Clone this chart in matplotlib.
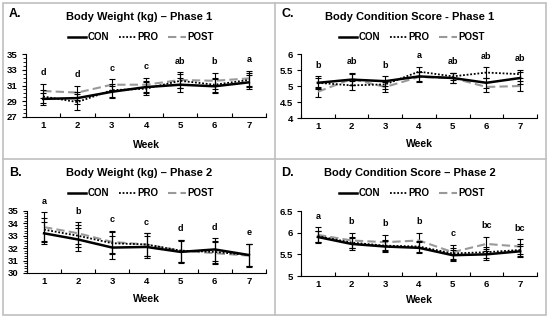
import matplotlib
matplotlib.use('Agg')
import matplotlib.pyplot as plt
from matplotlib.lines import Line2D
from matplotlib.patches import Rectangle
from matplotlib.ticker import FormatStrFormatter, MultipleLocator
import numpy as np

weeks = [1, 2, 3, 4, 5, 6, 7]
groups = ['CON', 'PRO', 'POST']

# A. body weight phase 1
bw1_con = [29.3, 29.4, 30.2, 30.8, 31.1, 30.9, 31.4]
bw1_pro = [29.6, 28.9, 30.4, 30.6, 31.6, 31.1, 31.7]
bw1_post = [30.3, 30.1, 31.1, 31.1, 31.7, 31.6, 31.9]
bw1_con_err = [0.8, 0.8, 0.8, 0.8, 0.9, 0.9, 0.9]
bw1_pro_err = [0.8, 1.0, 0.8, 0.8, 0.9, 0.9, 0.9]
bw1_post_err = [0.9, 0.9, 0.7, 0.9, 1.0, 1.0, 1.0]
bw1_sig = ['d', 'd', 'c', 'c', 'ab', 'b', 'a']

# B. body weight phase 2
bw2_con = [33.2, 32.7, 32.05, 32.1, 31.7, 31.9, 31.45]
bw2_pro = [33.5, 33.0, 32.4, 32.3, 31.8, 31.7, 31.45]
bw2_post = [33.7, 33.2, 32.5, 32.3, 31.8, 31.6, 31.4]
bw2_con_err = [0.9, 0.9, 0.9, 0.9, 0.9, 0.9, 0.9]
bw2_pro_err = [0.9, 0.9, 0.9, 0.9, 0.9, 0.9, 0.9]
bw2_post_err = [1.2, 0.9, 0.9, 0.9, 0.9, 0.9, 0.9]
bw2_sig = ['a', 'b', 'c', 'c', 'd', 'd', 'e']

# C. body condition score phase 1
bcs1_con = [5.1, 5.2, 5.15, 5.3, 5.25, 5.1, 5.25]
bcs1_pro = [5.1, 5.02, 5.05, 5.45, 5.3, 5.42, 5.37]
bcs1_post = [4.82, 5.22, 4.97, 5.28, 5.25, 4.97, 5.0]
bcs1_con_err = [0.2, 0.18, 0.15, 0.15, 0.15, 0.15, 0.2]
bcs1_pro_err = [0.15, 0.15, 0.15, 0.15, 0.12, 0.16, 0.13]
bcs1_post_err = [0.15, 0.2, 0.15, 0.15, 0.15, 0.15, 0.15]
bcs1_sig = ['b', 'ab', 'b', 'a', 'ab', 'ab', 'ab']

# D. body condition score phase 2
bcs2_con = [5.9, 5.74, 5.68, 5.65, 5.48, 5.5, 5.57]
bcs2_pro = [5.92, 5.77, 5.7, 5.68, 5.52, 5.55, 5.6]
bcs2_post = [5.95, 5.82, 5.78, 5.82, 5.55, 5.74, 5.68]
bcs2_con_err = [0.13, 0.13, 0.13, 0.13, 0.13, 0.13, 0.13]
bcs2_pro_err = [0.13, 0.13, 0.13, 0.13, 0.13, 0.13, 0.13]
bcs2_post_err = [0.17, 0.17, 0.17, 0.17, 0.17, 0.17, 0.17]
bcs2_sig = ['a', 'b', 'b', 'b', 'c', 'bc', 'bc']

plt.rcParams['font.family'] = ['Liberation Sans', 'DejaVu Sans']
plt.rcParams['font.weight'] = 'bold'

W, H = 550, 320
fig = plt.figure(figsize=(5.5, 3.2), dpi=100)


def fx(px):
    return px / W


def fy(py):
    return 1 - py / H


styles = [
    dict(color='black', lw=1.8, ls='-'),
    dict(color='black', lw=1.3, ls=(0, (1, 1))),
    dict(color='#999999', lw=1.5, ls=(0, (4, 2))),
]


def panel(box, series, errs, sig, ylim, ystep, yminor):
    x0, y0, x1, y1 = box  # axes edges in pixels
    ax = fig.add_axes([fx(x0), fy(y1), fx(x1 - x0), (y1 - y0) / H])
    for i in [2, 1, 0]:
        st = styles[i]
        ax.errorbar(weeks, series[i], yerr=errs[i], color=st['color'], lw=st['lw'],
                    ls=st['ls'], ecolor='black', elinewidth=0.8, capsize=2,
                    capthick=0.8, zorder=3 + (2 - i))
    tops = np.max(np.array(series) + np.array(errs), axis=0)
    for w, t, s in zip(weeks, tops, sig):
        ax.annotate(s, (w, t), xytext=(0, 8), textcoords='offset points',
                    ha='center', va='center', fontsize=6.5, fontweight='bold',
                    annotation_clip=False)
    ax.set_xlim(0.5, 7.5)
    ax.set_ylim(*ylim)
    ax.set_xticks(weeks)
    ax.set_xticks(np.arange(0.5, 8, 1), minor=True)
    ax.set_yticks(np.arange(ylim[0], ylim[1] + ystep / 2, ystep))
    ax.yaxis.set_major_formatter(FormatStrFormatter('%g'))
    if yminor:
        ax.yaxis.set_minor_locator(MultipleLocator(yminor))
    else:
        ax.tick_params(axis='y', which='minor', length=0)
    ax.tick_params(axis='x', which='major', length=0, pad=3, labelsize=6.8)
    ax.tick_params(axis='x', which='minor', direction='in', length=3, width=0.8)
    ax.tick_params(axis='y', which='major', direction='out', length=3, width=0.8,
                   pad=3, labelsize=6.8)
    ax.tick_params(axis='y', which='minor', direction='out', length=2, width=0.6)
    for lab in ax.get_xticklabels() + ax.get_yticklabels():
        lab.set_fontweight('bold')
    for s in ['top', 'right']:
        ax.spines[s].set_visible(False)
    for s in ['left', 'bottom']:
        ax.spines[s].set_linewidth(0.8)
    ax.patch.set_alpha(0)
    return ax


ax_a = panel((26, 54, 266, 117), [bw1_con, bw1_pro, bw1_post],
             [bw1_con_err, bw1_pro_err, bw1_post_err], bw1_sig, (27, 35), 2, 0.5)
ax_b = panel((27, 211, 266, 273), [bw2_con, bw2_pro, bw2_post],
             [bw2_con_err, bw2_pro_err, bw2_post_err], bw2_sig, (30, 35), 1, 0.2)
ax_c = panel((301, 54, 537, 118), [bcs1_con, bcs1_pro, bcs1_post],
             [bcs1_con_err, bcs1_pro_err, bcs1_post_err], bcs1_sig, (4, 6), 0.5, None)
ax_d = panel((301, 211, 537, 276), [bcs2_con, bcs2_pro, bcs2_post],
             [bcs2_con_err, bcs2_pro_err, bcs2_post_err], bcs2_sig, (5, 6.5), 0.5, None)

# texts
headers = [
    ('A.', 'Body Weight (kg) \u2013 Phase 1', 9, 14, 139, 17, 141, 37, 146, 145),
    ('B.', 'Body Weight (kg) \u2013 Phase 2', 9, 173, 139, 173.5, 141, 193, 146, 299),
    ('C.', 'Body Condition Score - Phase 1', 281, 14, 410, 17.5, 412, 37, 419, 144),
    ('D.', 'Body Condition Score \u2013 Phase 2', 281, 173, 410, 173.5, 412, 193, 419, 300),
]
handles = [Line2D([], [], **st) for st in styles]
for tag, title, tx, ty, hx, hy, lx, ly, wx, wy in headers:
    fig.text(fx(tx), fy(ty), tag, fontsize=9, fontweight='bold', ha='left', va='center')
    fig.text(fx(hx), fy(hy), title, fontsize=8, fontweight='bold', ha='center', va='center')
    fig.legend(handles, groups, loc='center', bbox_to_anchor=(fx(lx), fy(ly)),
               ncol=3, frameon=False, prop={'weight': 'bold', 'size': 7},
               handlelength=1.8, handletextpad=0.15, columnspacing=1.0, borderpad=0)
    fig.text(fx(wx), fy(wy), 'Week', fontsize=7.5, fontweight='bold', ha='center', va='center')

# panel borders
bc = '#bfbfbf'
fig.add_artist(Rectangle((fx(3), fy(315)), fx(543), 312 / H, fill=False, ec=bc, lw=1.2))
fig.add_artist(Line2D([fx(275), fx(275)], [fy(3), fy(315)], color=bc, lw=1.2))
fig.add_artist(Line2D([fx(3), fx(546)], [fy(159), fy(159)], color=bc, lw=1.2))

fig.savefig('out.png', dpi=100)
